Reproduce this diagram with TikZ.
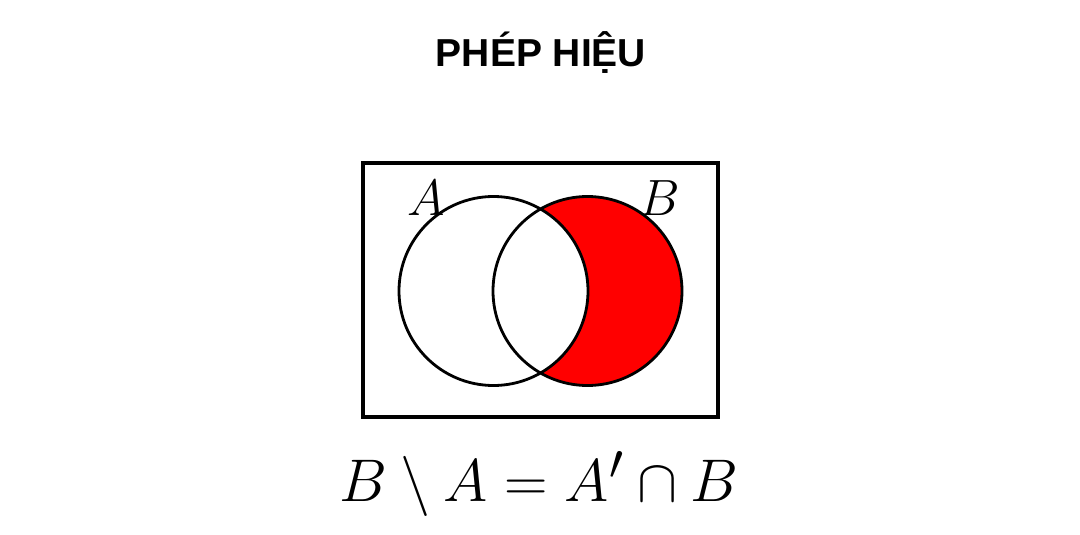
\documentclass[tikz,border=0pt]{standalone}
\usepackage{fontspec}
\usepackage{amsmath,amssymb}
\setmainfont{Liberation Sans}
\newfontfamily\titlefont{Liberation Sans}
\usetikzlibrary{positioning}
\tikzset{
  frame/.style  = {draw, line width=3.5pt},
  setline/.style = {draw, line width=2.8pt},
  setlbl/.style = {font=\Huge, inner sep=0pt},
}

\begin{document}
\begin{tikzpicture}[x=1pt,y=-1pt]
  \useasboundingbox (0,0) rectangle (1080,535);
  \node[font=\titlefont\bfseries\fontsize{39}{42}\selectfont] (title) at (541,53) {PHÉP HIỆU};
  \coordinate (cA) at (493.5,291);
  \coordinate (cB) at (587.5,291);
  \draw[frame] (363,163) rectangle (718,417);
  \fill[red] (cB) circle (94.5);
  \fill[white] (cA) circle (94.5);
  \draw[setline] (cA) circle (94.5);
  \draw[setline] (cB) circle (94.5);
  \node[setlbl] (lblA) at (426,198) {\scalebox{2.05}{$A$}};
  \node[setlbl] (lblB) at (660,198) {\scalebox{2.05}{$B$}};
  \node[font=\Huge] (formula) at (539,484) {\scalebox{2.42}{$B \setminus A = A' \cap B$}};
\end{tikzpicture}
\end{document}
